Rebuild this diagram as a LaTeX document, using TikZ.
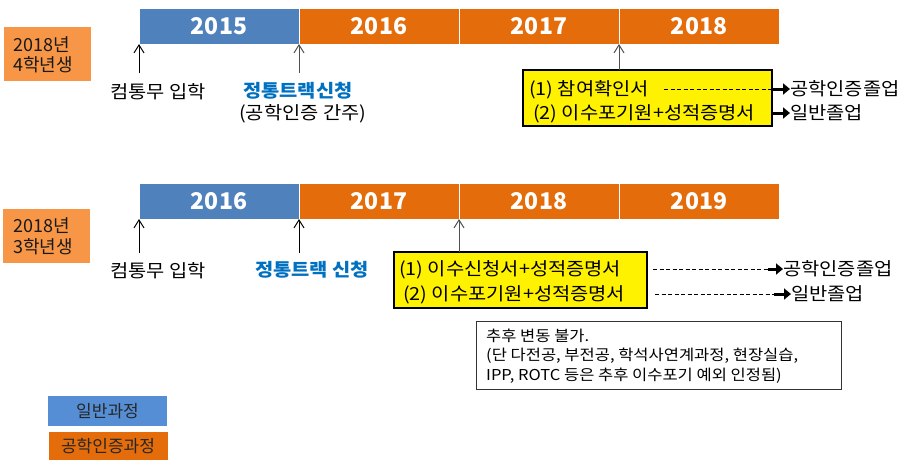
\documentclass[tikz,border=0pt]{standalone}
\usepackage{fontspec}
\setmainfont{Noto Sans CJK KR}[FakeStretch=1.1]
\newfontfamily\plainfont{Noto Sans CJK KR}
\usetikzlibrary{arrows.meta}
\definecolor{barblue}{HTML}{4F81BD}
\definecolor{barorange}{HTML}{E46C0A}
\definecolor{lblorange}{HTML}{F79646}
\definecolor{legblue}{HTML}{558ED5}
\definecolor{txtblue}{HTML}{0070C0}
\definecolor{arrgray}{HTML}{505050}
\begin{document}
\begin{tikzpicture}[x=1pt,y=-1pt,
  seg/.style={draw=white, line width=1pt, minimum width=160pt, minimum height=36pt, inner sep=0pt, outer sep=0pt, text=white, font=\plainfont\fontsize{23pt}{25pt}\selectfont\bfseries},
  lbl/.style={font=\fontsize{18pt}{21pt}\selectfont, inner sep=0pt, anchor=west},
  plbl/.style={font=\plainfont\fontsize{18pt}{21pt}\selectfont, inner sep=0pt, anchor=west, text=black!90},
  bluelbl/.style={lbl, text=txtblue, font=\fontsize{18pt}{21pt}\selectfont\bfseries},
  yearbox/.style={fill=lblorange, minimum width=87pt, minimum height=54pt, inner sep=0pt},
  ybox/.style={draw=black, fill=yellow, line width=2.5pt, inner sep=0pt, outer sep=0pt},
  uparrow/.style={line width=1pt, -{Straight Barb[length=8pt,width=10pt]}},
  dashline/.style={line width=1pt, dash pattern=on 4pt off 2.5pt},
  heavyarrow/.style={line width=3pt, -{Triangle[length=7pt,width=11pt]}},
  legend/.style={minimum width=119pt, inner sep=0pt, font=\plainfont\fontsize{17pt}{19pt}\selectfont, text=black!85}
]
\useasboundingbox (0,0) rectangle (905,459);

% ---------- top timeline ----------
\node[seg, fill=barblue]   (a1) at (219,26) {2015};
\node[seg, fill=barorange] (a2) at (379,26) {2016};
\node[seg, fill=barorange] (a3) at (539,26) {2017};
\node[seg, fill=barorange] (a4) at (699,26) {2018};

\node[yearbox] (ya) at (47.5,54) {};
\node[plbl] (ya1) at (13,45) {2018년};
\node[plbl] (ya2) at (13,65) {4학년생};

\node[lbl] (ea) at (110,92) {컴통무 입학};
\node[bluelbl] (ta) at (243,91) {정통트랙신청};
\node[lbl] (ta2) at (239,114) {(공학인증 간주)};

\coordinate (sa1) at (139,73);
\coordinate (sa2) at (299,73);
\draw[uparrow] (sa1) -- (sa1 |- a1.south);
\draw[uparrow, arrgray] (sa2) -- (a1.south east);

\node[ybox, minimum width=249pt, minimum height=56pt] (yb1) at (647.5,98) {};
\draw[uparrow, arrgray] (yb1.north -| a3.south east) -- (a3.south east);
\node[lbl] (yb1l1) at (529,90) {(1) 참여확인서};
\node[lbl] (yb1l2) at (533,114) {(2) 이수포기원+성적증명서};
\coordinate (da1) at (664,89);
\draw[dashline] (da1) -- (yb1.east |- da1);
\node[lbl] (ra1) at (790,89) {공학인증졸업};
\node[lbl] (ra2) at (790,113) {일반졸업};
\draw[heavyarrow] (yb1.east |- da1) -- (ra1.west);
\draw[heavyarrow] (yb1.east |- ra2.west) -- (ra2.west);

% ---------- bottom timeline ----------
\node[seg, fill=barblue]   (b1) at (219,201) {2016};
\node[seg, fill=barorange] (b2) at (379,201) {2017};
\node[seg, fill=barorange] (b3) at (539,201) {2018};
\node[seg, fill=barorange] (b4) at (699,201) {2019};

\node[yearbox] (yb) at (46.5,236) {};
\node[plbl] (yb1t) at (13,226) {2018년};
\node[plbl] (yb2t) at (13,247) {3학년생};

\node[lbl] (eb) at (110,271) {컴통무 입학};
\node[bluelbl] (tb) at (255,270) {정통트랙 신청};

\coordinate (sb1) at (139,253);
\coordinate (sb2) at (299,253);
\draw[uparrow] (sb1) -- (sb1 |- b1.south);
\draw[uparrow] (sb2) -- (b1.south east);

\node[ybox, minimum width=253pt, minimum height=56pt] (yb2) at (520.5,280) {};
\draw[uparrow, arrgray] (yb2.north -| b2.south east) -- (b2.south east);
\node[lbl] (yb2l1) at (399,270) {(1) 이수신청서+성적증명서};
\node[lbl] (yb2l2) at (403,295) {(2) 이수포기원+성적증명서};

\node[lbl] (rb1) at (783,269) {공학인증졸업};
\node[lbl] (rb2) at (791,294) {일반졸업};
\coordinate (db1) at (653,269);
\coordinate (mb1) at (768,269);
\coordinate (db2) at (655,294);
\coordinate (mb2) at (774,294);
\draw[dashline] (db1) -- (mb1);
\draw[heavyarrow] (mb1) -- (rb1.west);
\draw[dashline] (db2) -- (mb2);
\draw[heavyarrow] (mb2) -- (rb2.west);

% ---------- note ----------
\node[draw=black!80, line width=1pt, minimum width=365pt, minimum height=68pt, inner sep=0pt] (note) at (658.5,355) {};
\node[anchor=west, inner sep=0pt, align=left, font=\fontsize{15pt}{19.5pt}\selectfont] (notet) at (486,356)
  {추후 변동 불가.\\(단 다전공, 부전공, 학석사연계과정, 현장실습,\\IPP, ROTC 등은 추후 이수포기 예외 인정됨)};

% ---------- legend ----------
\node[legend, fill=legblue, minimum height=30pt] (lg1) at (107.5,411) {일반과정};
\node[legend, fill=barorange, minimum height=28pt] (lg2) at (108,446) {공학인증과정};
\end{tikzpicture}
\end{document}
